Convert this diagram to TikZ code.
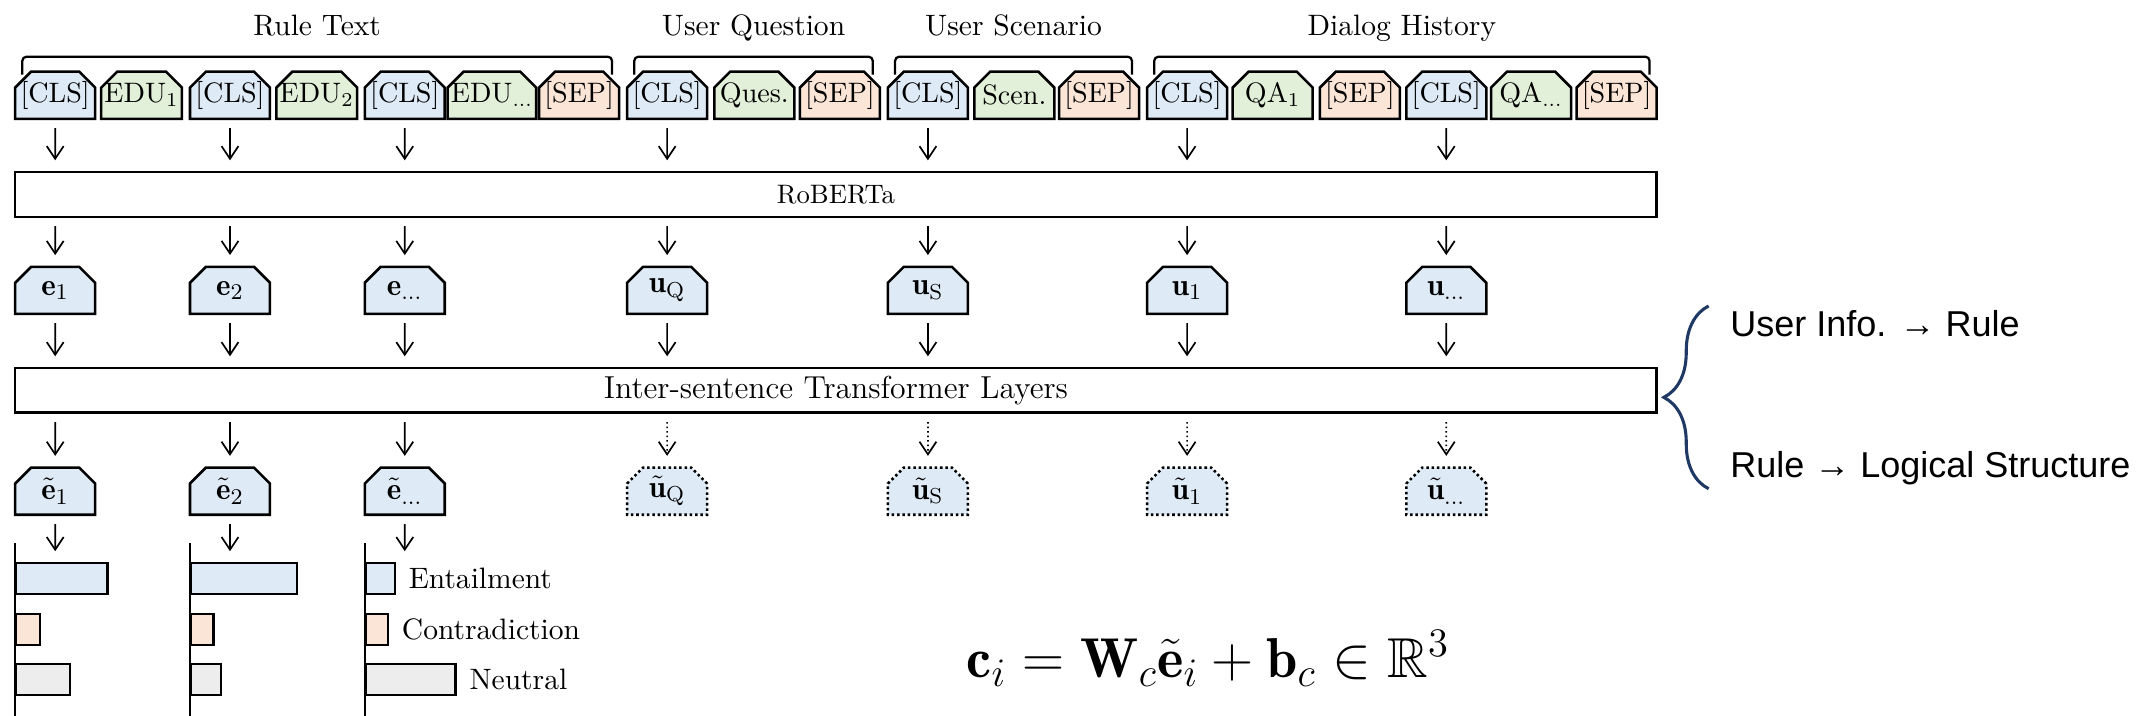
\documentclass[tikz,border=0pt]{standalone}
\usepackage{amsmath}
\usepackage{amssymb}
\usepackage{fontspec}
\newfontfamily\arialfont{Liberation Sans}
\usetikzlibrary{arrows.meta,shapes.misc,positioning,decorations.pathreplacing}
\definecolor{clsblue}{HTML}{DEEBF7}
\definecolor{edugreen}{HTML}{E2F0D9}
\definecolor{seppeach}{HTML}{FBE5D6}
\definecolor{probgray}{HTML}{EDEDED}
\definecolor{bracenavy}{HTML}{1F3864}
\tikzset{tk/.append style={chamfered rectangle, chamfered rectangle corners={north west,north east},
  chamfered rectangle xsep=0.1cm, chamfered rectangle ysep=0.1cm, draw, line width=0.9pt,
  minimum width=1cm, minimum height=0.59cm, inner xsep=-0.06cm, inner ysep=0pt,
  font=\fontsize{10}{12}\selectfont}}
\tikzset{cl/.append style={fill=clsblue}}
\tikzset{ed/.append style={fill=edugreen}}
\tikzset{sp/.append style={fill=seppeach}}
\tikzset{vec/.append style={tk,fill=clsblue,font=\fontsize{11}{13}\selectfont}}
\tikzset{dv/.append style={vec,densely dotted}}
\tikzset{enc/.append style={draw, line width=0.9pt, minimum width=20.52cm, minimum height=0.56cm,
  inner sep=0pt}}
\tikzset{brk/.append style={line width=0.8pt, rounded corners=1.5pt}}
\tikzset{ttl/.append style={anchor=base, yshift=7.5pt, font=\fontsize{10.5}{12}\selectfont}}
\tikzset{ar/.append style={-{Straight Barb[length=4.5pt,width=6pt]}, line width=0.6pt,
  shorten <=0.1cm, shorten >=0.13cm}}
\tikzset{dar/.append style={ar, densely dotted}}
\tikzset{bar/.append style={draw, line width=0.8pt, minimum height=0.39cm, inner sep=0pt, anchor=west}}
\tikzset{lb/.append style={inner sep=1pt, font=\fontsize{10.5}{12}\selectfont}}

\begin{document}
\begin{tikzpicture}
  \useasboundingbox (0,0) rectangle (26.79,8.95);
  % input tokens
  \node[tk,cl] (cls1) at (0.69,7.76) {[CLS]};
  \node[tk,ed] (edu1) at (1.77,7.76) {EDU\textsubscript{1}};
  \node[tk,cl] (cls2) at (2.875,7.76) {[CLS]};
  \node[tk,ed] (edu2) at (3.96,7.76) {EDU\textsubscript{2}};
  \node[tk,cl] (cls3) at (5.06,7.76) {[CLS]};
  \node[tk,ed] (edu3) at (6.15,7.76) {EDU\textsubscript{...}};
  \node[tk,sp] (sep1) at (7.24,7.76) {[SEP]};
  \node[tk,cl] (cls4) at (8.34,7.76) {[CLS]};
  \node[tk,ed] (ques) at (9.43,7.76) {Ques.};
  \node[tk,sp] (sep2) at (10.5,7.76) {[SEP]};
  \node[tk,cl] (cls5) at (11.6,7.76) {[CLS]};
  \node[tk,ed] (scen) at (12.68,7.76) {Scen.};
  \node[tk,sp] (sep3) at (13.74,7.76) {[SEP]};
  \node[tk,cl] (cls6) at (14.84,7.76) {[CLS]};
  \node[tk,ed] (qa1) at (15.91,7.76) {QA\textsubscript{1}};
  \node[tk,sp] (sep4) at (17.0,7.76) {[SEP]};
  \node[tk,cl] (cls7) at (18.08,7.76) {[CLS]};
  \node[tk,ed] (qa2) at (19.14,7.76) {QA\textsubscript{...}};
  \node[tk,sp] (sep5) at (20.21,7.76) {[SEP]};
  % brackets
  \draw[brk] ([yshift=0.05cm]cls1.north west) -- ++(0,0.225) -| node[pos=0.25,ttl]{Rule Text} ([yshift=0.05cm]sep1.north east);
  \draw[brk] ([yshift=0.05cm]cls4.north west) -- ++(0,0.225) -| node[pos=0.25,ttl]{User Question} ([yshift=0.05cm]sep2.north east);
  \draw[brk] ([yshift=0.05cm]cls5.north west) -- ++(0,0.225) -| node[pos=0.25,ttl]{User Scenario} ([yshift=0.05cm]sep3.north east);
  \draw[brk] ([yshift=0.05cm]cls6.north west) -- ++(0,0.225) -| node[pos=0.25,ttl]{Dialog History} ([yshift=0.05cm]sep5.north east);
  % encoders
  \node[enc,font=\fontsize{9.5}{12}\selectfont] (rob) at (10.45,6.52) {RoBERTa};
  \node[enc,font=\fontsize{11.3}{13}\selectfont] (ist) at (10.45,4.07) {Inter-sentence Transformer Layers};
  % sentence vectors
  \node[vec] (e1) at (0.69,5.32) {$\mathbf{e}_1$};
  \node[vec] (e2) at (2.875,5.32) {$\mathbf{e}_2$};
  \node[vec] (e3) at (5.06,5.32) {$\mathbf{e}_{\ldots}$};
  \node[vec] (uq) at (8.34,5.32) {$\mathbf{u}_\mathrm{Q}$};
  \node[vec] (us) at (11.6,5.32) {$\mathbf{u}_\mathrm{S}$};
  \node[vec] (u1) at (14.84,5.32) {$\mathbf{u}_1$};
  \node[vec] (u2) at (18.08,5.32) {$\mathbf{u}_{\ldots}$};
  \node[vec] (te1) at (0.69,2.81) {$\tilde{\mathbf{e}}_1$};
  \node[vec] (te2) at (2.875,2.81) {$\tilde{\mathbf{e}}_2$};
  \node[vec] (te3) at (5.06,2.81) {$\tilde{\mathbf{e}}_{\ldots}$};
  \node[dv] (tuq) at (8.34,2.81) {$\tilde{\mathbf{u}}_\mathrm{Q}$};
  \node[dv] (tus) at (11.6,2.81) {$\tilde{\mathbf{u}}_\mathrm{S}$};
  \node[dv] (tu1) at (14.84,2.81) {$\tilde{\mathbf{u}}_1$};
  \node[dv] (tu2) at (18.08,2.81) {$\tilde{\mathbf{u}}_{\ldots}$};
  % class scores
  \draw[line width=0.8pt] (0.19,0) -- (0.19,2.16) (2.375,0) -- (2.375,2.16) (4.56,0) -- (4.56,2.16);
  \node[bar,fill=clsblue,minimum width=1.14cm] (b1e) at (0.19,1.72) {};
  \node[bar,fill=seppeach,minimum width=0.30cm] (b1c) at (0.19,1.08) {};
  \node[bar,fill=probgray,minimum width=0.675cm] (b1n) at (0.19,0.456) {};
  \node[bar,fill=clsblue,minimum width=1.325cm] (b2e) at (2.375,1.72) {};
  \node[bar,fill=seppeach,minimum width=0.28cm] (b2c) at (2.375,1.08) {};
  \node[bar,fill=probgray,minimum width=0.37cm] (b2n) at (2.375,0.456) {};
  \node[bar,fill=clsblue,minimum width=0.36cm] (b3e) at (4.56,1.72) {};
  \node[bar,fill=seppeach,minimum width=0.275cm] (b3c) at (4.56,1.08) {};
  \node[bar,fill=probgray,minimum width=1.12cm] (b3n) at (4.56,0.456) {};
  \node[lb,right=0.12cm of b3e] (ent) {Entailment};
  \node[lb,right=0.12cm of b3c] (con) {Contradiction};
  \node[lb,right=0.12cm of b3n] (neu) {Neutral};
  % arrows
  \path[ar] (cls1) edge (cls1 |- rob.north) (cls2) edge (cls2 |- rob.north) (cls3) edge (cls3 |- rob.north)
    (cls4) edge (cls4 |- rob.north) (cls5) edge (cls5 |- rob.north) (cls6) edge (cls6 |- rob.north)
    (cls7) edge (cls7 |- rob.north);
  \path[ar] (e1 |- rob.south) edge (e1) (e2 |- rob.south) edge (e2) (e3 |- rob.south) edge (e3)
    (uq |- rob.south) edge (uq) (us |- rob.south) edge (us) (u1 |- rob.south) edge (u1) (u2 |- rob.south) edge (u2);
  \path[ar] (e1) edge (e1 |- ist.north) (e2) edge (e2 |- ist.north) (e3) edge (e3 |- ist.north)
    (uq) edge (uq |- ist.north) (us) edge (us |- ist.north) (u1) edge (u1 |- ist.north) (u2) edge (u2 |- ist.north);
  \path[ar] (te1 |- ist.south) edge (te1) (te2 |- ist.south) edge (te2) (te3 |- ist.south) edge (te3);
  \path[dar] (tuq |- ist.south) edge (tuq) (tus |- ist.south) edge (tus) (tu1 |- ist.south) edge (tu1) (tu2 |- ist.south) edge (tu2);
  \path[ar] (te1) edge (te1 |- b1e.north) (te2) edge (te2 |- b2e.north) (te3) edge (te3 |- b3e.north);
  % attention
  \draw[bracenavy, line width=1.1pt, decorate, decoration={brace, amplitude=0.56cm}] (21.36,2.84) -- (21.36,5.125);
  \node[anchor=west, inner sep=0pt, font=\arialfont\fontsize{12.8}{15}\selectfont] (ui) at (21.625,4.91) {User Info. → Rule};
  \node[anchor=west, inner sep=0pt, font=\arialfont\fontsize{12.8}{15}\selectfont] (rl) at (21.625,3.10) {Rule → Logical Structure};
  % classifier
  \node[anchor=base, font=\fontsize{20}{24}\selectfont] (eq) at (15.1,0.475)
    {$\mathbf{c}_i = \mathbf{W}_c\tilde{\mathbf{e}}_i + \mathbf{b}_c \in \mathbb{R}^3$};
\end{tikzpicture}
\end{document}
